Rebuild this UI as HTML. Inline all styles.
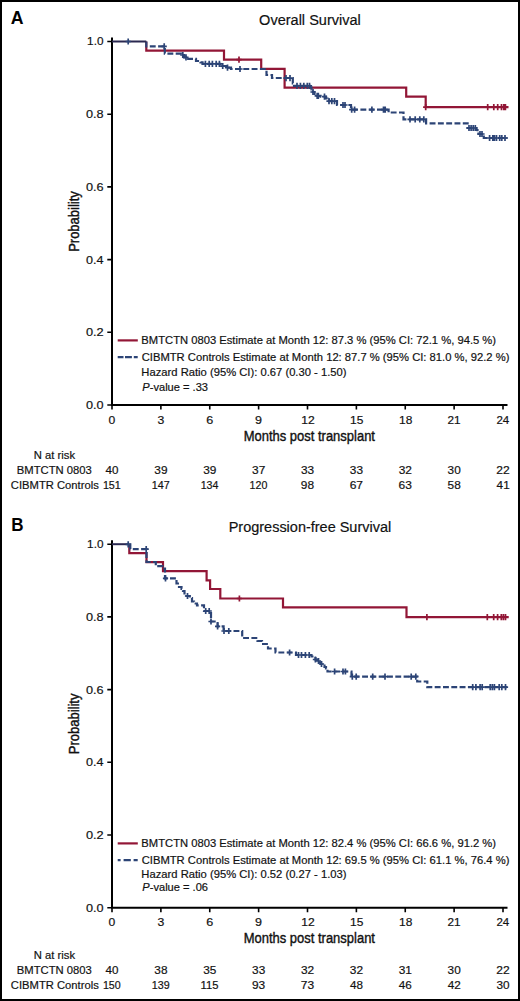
<!DOCTYPE html>
<html><head><meta charset="utf-8"><style>
html,body{margin:0;padding:0;background:#fff;}
svg{display:block;}
text{font-family:"Liberation Sans",sans-serif;stroke:#111;stroke-width:0.18px;}
</style></head><body>
<svg width="520" height="1001" viewBox="0 0 520 1001">
<rect x="0" y="0" width="520" height="1001" fill="#fff"/>
<text x="10.76" y="23.80" font-size="17.6" textLength="12.81" lengthAdjust="spacingAndGlyphs" font-weight="bold" font-style="normal" fill="#000" style="stroke:none">A</text>
<text x="259.12" y="24.60" font-size="14" textLength="101.66" lengthAdjust="spacingAndGlyphs" font-weight="normal" font-style="normal" fill="#111">Overall Survival</text>
<path d="M112,37.50V406.00M111,405.00H507.5" stroke="#000" stroke-width="2" fill="none"/>
<path d="M107.3,405.00H112M107.3,332.30H112M107.3,259.60H112M107.3,186.90H112M107.3,114.20H112M107.3,41.50H112M112.00,405.00V409.50M160.88,405.00V409.50M209.75,405.00V409.50M258.62,405.00V409.50M307.50,405.00V409.50M356.38,405.00V409.50M405.25,405.00V409.50M454.12,405.00V409.50M503.00,405.00V409.50" stroke="#000" stroke-width="1.6" fill="none"/>
<text x="85.91" y="408.90" font-size="11" textLength="17.59" lengthAdjust="spacingAndGlyphs" font-weight="normal" font-style="normal" fill="#111">0.0</text>
<text x="85.90" y="336.20" font-size="11" textLength="17.74" lengthAdjust="spacingAndGlyphs" font-weight="normal" font-style="normal" fill="#111">0.2</text>
<text x="85.91" y="263.50" font-size="11" textLength="17.46" lengthAdjust="spacingAndGlyphs" font-weight="normal" font-style="normal" fill="#111">0.4</text>
<text x="85.90" y="190.80" font-size="11" textLength="17.66" lengthAdjust="spacingAndGlyphs" font-weight="normal" font-style="normal" fill="#111">0.6</text>
<text x="85.91" y="118.10" font-size="11" textLength="17.64" lengthAdjust="spacingAndGlyphs" font-weight="normal" font-style="normal" fill="#111">0.8</text>
<text x="87.11" y="45.40" font-size="11" textLength="16.35" lengthAdjust="spacingAndGlyphs" font-weight="normal" font-style="normal" fill="#111">1.0</text>
<text x="108.63" y="423.60" font-size="11" textLength="6.75" lengthAdjust="spacingAndGlyphs" font-weight="normal" font-style="normal" fill="#111">0</text>
<text x="157.51" y="423.60" font-size="11" textLength="6.81" lengthAdjust="spacingAndGlyphs" font-weight="normal" font-style="normal" fill="#111">3</text>
<text x="206.21" y="423.60" font-size="11" textLength="7.00" lengthAdjust="spacingAndGlyphs" font-weight="normal" font-style="normal" fill="#111">6</text>
<text x="255.13" y="423.60" font-size="11" textLength="6.98" lengthAdjust="spacingAndGlyphs" font-weight="normal" font-style="normal" fill="#111">9</text>
<text x="301.23" y="423.60" font-size="11" textLength="13.42" lengthAdjust="spacingAndGlyphs" font-weight="normal" font-style="normal" fill="#111">12</text>
<text x="350.12" y="423.60" font-size="11" textLength="13.32" lengthAdjust="spacingAndGlyphs" font-weight="normal" font-style="normal" fill="#111">15</text>
<text x="398.99" y="423.60" font-size="11" textLength="13.33" lengthAdjust="spacingAndGlyphs" font-weight="normal" font-style="normal" fill="#111">18</text>
<text x="447.59" y="423.60" font-size="11" textLength="13.07" lengthAdjust="spacingAndGlyphs" font-weight="normal" font-style="normal" fill="#111">21</text>
<text x="496.47" y="423.60" font-size="11" textLength="12.81" lengthAdjust="spacingAndGlyphs" font-weight="normal" font-style="normal" fill="#111">24</text>
<text x="243.64" y="440.80" font-size="15.3" textLength="131.35" lengthAdjust="spacingAndGlyphs" font-weight="normal" font-style="normal" fill="#111" style="stroke-width:0.4px">Months post transplant</text>
<g transform="translate(78.7,250.80) rotate(-90)"><text x="-1.07" y="0.00" font-size="14.4" textLength="60.69" lengthAdjust="spacingAndGlyphs" font-weight="normal" font-style="normal" fill="#111" style="stroke-width:0.4px">Probability</text></g>
<path d="M146.3,41.5 V50.6 H224 V59.7 H261.2 V68.8 H284.6 V87.6 H406.2 V96.6 H425.7 V107.2 H508.5" stroke="#921636" stroke-width="2.2" fill="none"/>
<path d="M146.3,41.5 V46.3 H164.8 V53.6 H181.5 V55 H184 V57.4 H186 V58.8 H196 V61 H200.5 V62.3 H202.5 V63.8 H221.5 V66 H226 V67.6 H231 V69 H266.5 V75 H272 V78 H292.8 V83.3 H294 V85.8 H310 V87.5 H311.5 V89.5 H313 V92 H314.5 V95.8 H320.6 V96.6 H326 V98.5 H327.5 V100 H329 V101.2 H337 V105 H351 V109.6 H388.6 V112.5 H403.5 V119.3 H426.1 V123.4 H467.6 V128 H476 V130 H477.5 V132 H478.5 V134 H483.8 V138 H507.6" stroke="#2c4476" stroke-width="2.2" fill="none" stroke-dasharray="5.9 2.4"/>
<path d="M112,41.50H146.30" stroke="#2a2850" stroke-width="2"/>
<path d="M239.0,56.6V62.8M236.4,59.7H241.6M425.7,104.1V110.3M423.1,107.2H428.3M487.7,104.1V110.3M485.1,107.2H490.3M493.8,104.1V110.3M491.2,107.2H496.4M497.7,104.1V110.3M495.1,107.2H500.3M501.5,104.1V110.3M498.9,107.2H504.1M503.8,104.1V110.3M501.2,107.2H506.4M505.4,104.1V110.3M502.8,107.2H508.0" stroke="#921636" stroke-width="1.7" fill="none"/>
<path d="M128.2,38.4V44.6M125.6,41.5H130.8M164.2,43.2V49.4M161.6,46.3H166.8M182.8,51.9V58.1M180.2,55.0H185.4M186.0,54.3V60.5M183.4,57.4H188.6M205.4,60.7V66.9M202.8,63.8H208.0M209.2,60.7V66.9M206.6,63.8H211.8M212.4,60.7V66.9M209.8,63.8H215.0M216.2,60.7V66.9M213.6,63.8H218.8M219.4,60.7V66.9M216.8,63.8H222.0M222.7,62.9V69.1M220.1,66.0H225.3M227.5,64.5V70.7M224.9,67.6H230.1M240.0,65.9V72.1M237.4,69.0H242.6M286.0,75.0V81.2M283.4,78.1H288.6M290.0,75.0V81.2M287.4,78.1H292.6M297.0,82.7V88.9M294.4,85.8H299.6M300.4,82.7V88.9M297.8,85.8H303.0M303.8,82.7V88.9M301.2,85.8H306.4M307.3,82.7V88.9M304.7,85.8H309.9M309.5,82.7V88.9M306.9,85.8H312.1M313.0,88.9V95.1M310.4,92.0H315.6M317.2,92.7V98.9M314.6,95.8H319.8M318.3,92.7V98.9M315.7,95.8H320.9M324.5,93.5V99.7M321.9,96.6H327.1M329.0,98.1V104.3M326.4,101.2H331.6M331.8,98.1V104.3M329.2,101.2H334.4M334.5,98.1V104.3M331.9,101.2H337.1M343.0,101.9V108.1M340.4,105.0H345.6M345.0,101.9V108.1M342.4,105.0H347.6M351.7,106.5V112.7M349.1,109.6H354.3M354.6,106.5V112.7M352.0,109.6H357.2M371.9,106.5V112.7M369.3,109.6H374.5M383.5,106.5V112.7M380.9,109.6H386.1M385.2,106.5V112.7M382.6,109.6H387.8M410.0,116.2V122.4M407.4,119.3H412.6M415.2,116.2V122.4M412.6,119.3H417.8M419.8,116.2V122.4M417.2,119.3H422.4M423.8,116.2V122.4M421.2,119.3H426.4M469.0,124.9V131.1M466.4,128.0H471.6M471.1,124.9V131.1M468.5,128.0H473.7M473.2,124.9V131.1M470.6,128.0H475.8M475.3,124.9V131.1M472.7,128.0H477.9M480.0,130.9V137.1M477.4,134.0H482.6M482.0,130.9V137.1M479.4,134.0H484.6M489.6,134.9V141.1M487.0,138.0H492.2M492.8,134.9V141.1M490.2,138.0H495.4M494.4,134.9V141.1M491.8,138.0H497.0M496.5,134.9V141.1M493.9,138.0H499.1M499.7,134.9V141.1M497.1,138.0H502.3M501.8,134.9V141.1M499.2,138.0H504.4M505.0,134.9V141.1M502.4,138.0H507.6" stroke="#2c4476" stroke-width="1.7" fill="none"/>
<path d="M117.7,340.40H137.8" stroke="#921636" stroke-width="2.2"/>
<path d="M117.7,357.10H123.5M125,357.10H131.9M133.8,357.10H137.7" stroke="#2c4476" stroke-width="2.2"/>
<text x="141.38" y="344.00" font-size="10.6" textLength="354.71" lengthAdjust="spacingAndGlyphs" font-weight="normal" font-style="normal" fill="#111">BMTCTN 0803 Estimate at Month 12: 87.3 % (95% CI: 72.1 %, 94.5 %)</text>
<text x="141.73" y="360.90" font-size="10.6" textLength="367.66" lengthAdjust="spacingAndGlyphs" font-weight="normal" font-style="normal" fill="#111">CIBMTR Controls Estimate at Month 12: 87.7 % (95% CI: 81.0 %, 92.2 %)</text>
<text x="141.38" y="376.00" font-size="10.6" textLength="205.12" lengthAdjust="spacingAndGlyphs" font-weight="normal" font-style="normal" fill="#111">Hazard Ratio (95% CI): 0.67 (0.30 - 1.50)</text>
<text x="142.36" y="391.10" font-size="10.6" font-style="italic" textLength="7.39" lengthAdjust="spacingAndGlyphs" fill="#111">P</text>
<text x="149.75" y="391.10" font-size="10.6" textLength="58.24" lengthAdjust="spacingAndGlyphs" fill="#111">-value = .33</text>
<text x="33.88" y="458.60" font-size="11" textLength="41.21" lengthAdjust="spacingAndGlyphs" font-weight="normal" font-style="normal" fill="#111">N at risk</text>
<text x="16.88" y="473.60" font-size="11" textLength="74.92" lengthAdjust="spacingAndGlyphs" font-weight="normal" font-style="normal" fill="#111">BMTCTN 0803</text>
<text x="10.83" y="488.60" font-size="11" textLength="87.97" lengthAdjust="spacingAndGlyphs" font-weight="normal" font-style="normal" fill="#111">CIBMTR Controls</text>
<text x="105.63" y="473.60" font-size="11" textLength="12.92" lengthAdjust="spacingAndGlyphs" font-weight="normal" font-style="normal" fill="#111">40</text>
<text x="102.88" y="488.60" font-size="11" textLength="17.95" lengthAdjust="spacingAndGlyphs" font-weight="normal" font-style="normal" fill="#111">151</text>
<text x="154.32" y="473.60" font-size="11" textLength="13.21" lengthAdjust="spacingAndGlyphs" font-weight="normal" font-style="normal" fill="#111">39</text>
<text x="151.76" y="488.60" font-size="11" textLength="17.96" lengthAdjust="spacingAndGlyphs" font-weight="normal" font-style="normal" fill="#111">147</text>
<text x="203.20" y="473.60" font-size="11" textLength="13.21" lengthAdjust="spacingAndGlyphs" font-weight="normal" font-style="normal" fill="#111">39</text>
<text x="200.64" y="488.60" font-size="11" textLength="17.72" lengthAdjust="spacingAndGlyphs" font-weight="normal" font-style="normal" fill="#111">134</text>
<text x="252.07" y="473.60" font-size="11" textLength="13.25" lengthAdjust="spacingAndGlyphs" font-weight="normal" font-style="normal" fill="#111">37</text>
<text x="249.51" y="488.60" font-size="11" textLength="17.83" lengthAdjust="spacingAndGlyphs" font-weight="normal" font-style="normal" fill="#111">120</text>
<text x="300.95" y="473.60" font-size="11" textLength="13.17" lengthAdjust="spacingAndGlyphs" font-weight="normal" font-style="normal" fill="#111">33</text>
<text x="300.84" y="488.60" font-size="11" textLength="13.28" lengthAdjust="spacingAndGlyphs" font-weight="normal" font-style="normal" fill="#111">98</text>
<text x="349.82" y="473.60" font-size="11" textLength="13.17" lengthAdjust="spacingAndGlyphs" font-weight="normal" font-style="normal" fill="#111">33</text>
<text x="349.66" y="488.60" font-size="11" textLength="13.42" lengthAdjust="spacingAndGlyphs" font-weight="normal" font-style="normal" fill="#111">67</text>
<text x="398.70" y="473.60" font-size="11" textLength="13.25" lengthAdjust="spacingAndGlyphs" font-weight="normal" font-style="normal" fill="#111">32</text>
<text x="398.54" y="488.60" font-size="11" textLength="13.34" lengthAdjust="spacingAndGlyphs" font-weight="normal" font-style="normal" fill="#111">63</text>
<text x="447.58" y="473.60" font-size="11" textLength="13.11" lengthAdjust="spacingAndGlyphs" font-weight="normal" font-style="normal" fill="#111">30</text>
<text x="447.55" y="488.60" font-size="11" textLength="13.19" lengthAdjust="spacingAndGlyphs" font-weight="normal" font-style="normal" fill="#111">58</text>
<text x="496.30" y="473.60" font-size="11" textLength="13.41" lengthAdjust="spacingAndGlyphs" font-weight="normal" font-style="normal" fill="#111">22</text>
<text x="496.63" y="488.60" font-size="11" textLength="13.05" lengthAdjust="spacingAndGlyphs" font-weight="normal" font-style="normal" fill="#111">41</text>
<text x="11.16" y="531.20" font-size="17.6" textLength="12.31" lengthAdjust="spacingAndGlyphs" font-weight="bold" font-style="normal" fill="#000" style="stroke:none">B</text>
<text x="228.71" y="532.00" font-size="14" textLength="162.47" lengthAdjust="spacingAndGlyphs" font-weight="normal" font-style="normal" fill="#111">Progression-free Survival</text>
<path d="M112,540.20V908.70M111,907.70H507.5" stroke="#000" stroke-width="2" fill="none"/>
<path d="M107.3,907.70H112M107.3,835.00H112M107.3,762.30H112M107.3,689.60H112M107.3,616.90H112M107.3,544.20H112M112.00,907.70V912.20M160.88,907.70V912.20M209.75,907.70V912.20M258.62,907.70V912.20M307.50,907.70V912.20M356.38,907.70V912.20M405.25,907.70V912.20M454.12,907.70V912.20M503.00,907.70V912.20" stroke="#000" stroke-width="1.6" fill="none"/>
<text x="85.91" y="911.60" font-size="11" textLength="17.59" lengthAdjust="spacingAndGlyphs" font-weight="normal" font-style="normal" fill="#111">0.0</text>
<text x="85.90" y="838.90" font-size="11" textLength="17.74" lengthAdjust="spacingAndGlyphs" font-weight="normal" font-style="normal" fill="#111">0.2</text>
<text x="85.91" y="766.20" font-size="11" textLength="17.46" lengthAdjust="spacingAndGlyphs" font-weight="normal" font-style="normal" fill="#111">0.4</text>
<text x="85.90" y="693.50" font-size="11" textLength="17.66" lengthAdjust="spacingAndGlyphs" font-weight="normal" font-style="normal" fill="#111">0.6</text>
<text x="85.91" y="620.80" font-size="11" textLength="17.64" lengthAdjust="spacingAndGlyphs" font-weight="normal" font-style="normal" fill="#111">0.8</text>
<text x="87.11" y="548.10" font-size="11" textLength="16.35" lengthAdjust="spacingAndGlyphs" font-weight="normal" font-style="normal" fill="#111">1.0</text>
<text x="108.63" y="925.80" font-size="11" textLength="6.75" lengthAdjust="spacingAndGlyphs" font-weight="normal" font-style="normal" fill="#111">0</text>
<text x="157.51" y="925.80" font-size="11" textLength="6.81" lengthAdjust="spacingAndGlyphs" font-weight="normal" font-style="normal" fill="#111">3</text>
<text x="206.21" y="925.80" font-size="11" textLength="7.00" lengthAdjust="spacingAndGlyphs" font-weight="normal" font-style="normal" fill="#111">6</text>
<text x="255.13" y="925.80" font-size="11" textLength="6.98" lengthAdjust="spacingAndGlyphs" font-weight="normal" font-style="normal" fill="#111">9</text>
<text x="301.23" y="925.80" font-size="11" textLength="13.42" lengthAdjust="spacingAndGlyphs" font-weight="normal" font-style="normal" fill="#111">12</text>
<text x="350.12" y="925.80" font-size="11" textLength="13.32" lengthAdjust="spacingAndGlyphs" font-weight="normal" font-style="normal" fill="#111">15</text>
<text x="398.99" y="925.80" font-size="11" textLength="13.33" lengthAdjust="spacingAndGlyphs" font-weight="normal" font-style="normal" fill="#111">18</text>
<text x="447.59" y="925.80" font-size="11" textLength="13.07" lengthAdjust="spacingAndGlyphs" font-weight="normal" font-style="normal" fill="#111">21</text>
<text x="496.47" y="925.80" font-size="11" textLength="12.81" lengthAdjust="spacingAndGlyphs" font-weight="normal" font-style="normal" fill="#111">24</text>
<text x="243.64" y="942.90" font-size="15.3" textLength="131.35" lengthAdjust="spacingAndGlyphs" font-weight="normal" font-style="normal" fill="#111" style="stroke-width:0.4px">Months post transplant</text>
<g transform="translate(78.7,753.20) rotate(-90)"><text x="-1.07" y="0.00" font-size="14.4" textLength="60.69" lengthAdjust="spacingAndGlyphs" font-weight="normal" font-style="normal" fill="#111" style="stroke-width:0.4px">Probability</text></g>
<path d="M129.3,544.3 V553.2 H146.5 V562.2 H163 V571.1 H206.6 V580.3 H210.1 V589 H220.3 V598.5 H283 V607.4 H406.5 V617.2 H508.7" stroke="#921636" stroke-width="2.2" fill="none"/>
<path d="M129.3,544.3 H130.3 V549.1 H146.5 V562 H155.8 V566.2 H162.5 V568.5 H165 V578.3 H176.5 V583.5 H179 V587 H181.5 V588.8 H183 V591 H184.5 V596 H189.8 V598 H192 V601.5 H194 V603.5 H197 V605.3 H204 V611 H211 V621.5 H217.6 V626.3 H223.6 V631 H242.2 V638 H257.5 V641 H262 V644 H268 V648.5 H275.5 V652.5 H296 V655 H311.5 V656.5 H313.5 V658 H315.5 V659.5 H317.5 V661 H319.5 V662.5 H321 V664 H323 V665.5 H324.5 V667 H326 V668.5 H327.5 V671.5 H351.5 V676.7 H417.2 V681.5 H427.3 V687.1 H508.1" stroke="#2c4476" stroke-width="2.2" fill="none" stroke-dasharray="5.9 2.4"/>
<path d="M112,544.20H129.30" stroke="#2a2850" stroke-width="2"/>
<path d="M239.4,595.4V601.6M236.8,598.5H242.0M426.9,614.1V620.3M424.3,617.2H429.5M487.3,614.1V620.3M484.7,617.2H489.9M493.7,614.1V620.3M491.1,617.2H496.3M497.6,614.1V620.3M495.0,617.2H500.2M501.3,614.1V620.3M498.7,617.2H503.9M503.4,614.1V620.3M500.8,617.2H506.0M505.5,614.1V620.3M502.9,617.2H508.1" stroke="#921636" stroke-width="1.7" fill="none"/>
<path d="M128.2,541.2V547.4M125.6,544.3H130.8M146.2,546.0V552.2M143.6,549.1H148.8M165.5,575.2V581.4M162.9,578.3H168.1M187.5,592.9V599.1M184.9,596.0H190.1M205.7,607.9V614.1M203.1,611.0H208.3M209.2,607.9V614.1M206.6,611.0H211.8M211.0,618.4V624.6M208.4,621.5H213.6M217.6,623.2V629.4M215.0,626.3H220.2M224.0,627.9V634.1M221.4,631.0H226.6M228.8,627.9V634.1M226.2,631.0H231.4M289.6,649.4V655.6M287.0,652.5H292.2M298.5,651.9V658.1M295.9,655.0H301.1M301.5,651.9V658.1M298.9,655.0H304.1M305.4,651.9V658.1M302.8,655.0H308.0M309.2,651.9V658.1M306.6,655.0H311.8M315.4,656.4V662.6M312.8,659.5H318.0M318.5,657.9V664.1M315.9,661.0H321.1M321.5,660.9V667.1M318.9,664.0H324.1M334.6,668.4V674.6M332.0,671.5H337.2M343.0,668.4V674.6M340.4,671.5H345.6M345.4,668.4V674.6M342.8,671.5H348.0M352.3,673.6V679.8M349.7,676.7H354.9M356.2,673.6V679.8M353.6,676.7H358.8M372.7,673.6V679.8M370.1,676.7H375.3M385.0,673.6V679.8M382.4,676.7H387.6M411.2,673.6V679.8M408.6,676.7H413.8M415.8,673.6V679.8M413.2,676.7H418.4M472.7,684.0V690.2M470.1,687.1H475.3M475.9,684.0V690.2M473.3,687.1H478.5M480.1,684.0V690.2M477.5,687.1H482.7M482.2,684.0V690.2M479.6,687.1H484.8M490.2,684.0V690.2M487.6,687.1H492.8M492.3,684.0V690.2M489.7,687.1H494.9M494.4,684.0V690.2M491.8,687.1H497.0M499.2,684.0V690.2M496.6,687.1H501.8M501.8,684.0V690.2M499.2,687.1H504.4M505.5,684.0V690.2M502.9,687.1H508.1" stroke="#2c4476" stroke-width="1.7" fill="none"/>
<path d="M117.7,843.40H137.8" stroke="#921636" stroke-width="2.2"/>
<path d="M117.7,860.10H120.6M123.6,860.10H130.8M133.6,860.10H137.7" stroke="#2c4476" stroke-width="2.2"/>
<text x="141.38" y="846.80" font-size="10.6" textLength="354.71" lengthAdjust="spacingAndGlyphs" font-weight="normal" font-style="normal" fill="#111">BMTCTN 0803 Estimate at Month 12: 82.4 % (95% CI: 66.6 %, 91.2 %)</text>
<text x="141.73" y="863.60" font-size="10.6" textLength="367.66" lengthAdjust="spacingAndGlyphs" font-weight="normal" font-style="normal" fill="#111">CIBMTR Controls Estimate at Month 12: 69.5 % (95% CI: 61.1 %, 76.4 %)</text>
<text x="141.38" y="877.60" font-size="10.6" textLength="205.12" lengthAdjust="spacingAndGlyphs" font-weight="normal" font-style="normal" fill="#111">Hazard Ratio (95% CI): 0.52 (0.27 - 1.03)</text>
<text x="142.36" y="890.80" font-size="10.6" font-style="italic" textLength="7.39" lengthAdjust="spacingAndGlyphs" fill="#111">P</text>
<text x="149.75" y="890.80" font-size="10.6" textLength="58.24" lengthAdjust="spacingAndGlyphs" fill="#111">-value = .06</text>
<text x="33.88" y="958.60" font-size="11" textLength="41.21" lengthAdjust="spacingAndGlyphs" font-weight="normal" font-style="normal" fill="#111">N at risk</text>
<text x="16.88" y="973.60" font-size="11" textLength="74.92" lengthAdjust="spacingAndGlyphs" font-weight="normal" font-style="normal" fill="#111">BMTCTN 0803</text>
<text x="10.83" y="988.60" font-size="11" textLength="87.97" lengthAdjust="spacingAndGlyphs" font-weight="normal" font-style="normal" fill="#111">CIBMTR Controls</text>
<text x="105.63" y="973.60" font-size="11" textLength="12.92" lengthAdjust="spacingAndGlyphs" font-weight="normal" font-style="normal" fill="#111">40</text>
<text x="102.89" y="988.60" font-size="11" textLength="17.83" lengthAdjust="spacingAndGlyphs" font-weight="normal" font-style="normal" fill="#111">150</text>
<text x="154.33" y="973.60" font-size="11" textLength="13.16" lengthAdjust="spacingAndGlyphs" font-weight="normal" font-style="normal" fill="#111">38</text>
<text x="151.76" y="988.60" font-size="11" textLength="17.93" lengthAdjust="spacingAndGlyphs" font-weight="normal" font-style="normal" fill="#111">139</text>
<text x="203.20" y="973.60" font-size="11" textLength="13.15" lengthAdjust="spacingAndGlyphs" font-weight="normal" font-style="normal" fill="#111">35</text>
<text x="200.60" y="988.60" font-size="11" textLength="17.93" lengthAdjust="spacingAndGlyphs" font-weight="normal" font-style="normal" fill="#111">115</text>
<text x="252.07" y="973.60" font-size="11" textLength="13.17" lengthAdjust="spacingAndGlyphs" font-weight="normal" font-style="normal" fill="#111">33</text>
<text x="251.96" y="988.60" font-size="11" textLength="13.29" lengthAdjust="spacingAndGlyphs" font-weight="normal" font-style="normal" fill="#111">93</text>
<text x="300.95" y="973.60" font-size="11" textLength="13.25" lengthAdjust="spacingAndGlyphs" font-weight="normal" font-style="normal" fill="#111">32</text>
<text x="300.79" y="988.60" font-size="11" textLength="13.34" lengthAdjust="spacingAndGlyphs" font-weight="normal" font-style="normal" fill="#111">73</text>
<text x="349.82" y="973.60" font-size="11" textLength="13.25" lengthAdjust="spacingAndGlyphs" font-weight="normal" font-style="normal" fill="#111">32</text>
<text x="350.01" y="988.60" font-size="11" textLength="12.97" lengthAdjust="spacingAndGlyphs" font-weight="normal" font-style="normal" fill="#111">48</text>
<text x="398.70" y="973.60" font-size="11" textLength="13.24" lengthAdjust="spacingAndGlyphs" font-weight="normal" font-style="normal" fill="#111">31</text>
<text x="398.88" y="988.60" font-size="11" textLength="12.99" lengthAdjust="spacingAndGlyphs" font-weight="normal" font-style="normal" fill="#111">46</text>
<text x="447.58" y="973.60" font-size="11" textLength="13.11" lengthAdjust="spacingAndGlyphs" font-weight="normal" font-style="normal" fill="#111">30</text>
<text x="447.75" y="988.60" font-size="11" textLength="13.06" lengthAdjust="spacingAndGlyphs" font-weight="normal" font-style="normal" fill="#111">42</text>
<text x="496.30" y="973.60" font-size="11" textLength="13.41" lengthAdjust="spacingAndGlyphs" font-weight="normal" font-style="normal" fill="#111">22</text>
<text x="496.45" y="988.60" font-size="11" textLength="13.11" lengthAdjust="spacingAndGlyphs" font-weight="normal" font-style="normal" fill="#111">30</text>
<rect x="1" y="1" width="518" height="999" fill="none" stroke="#000" stroke-width="2"/>
</svg>
</body></html>
